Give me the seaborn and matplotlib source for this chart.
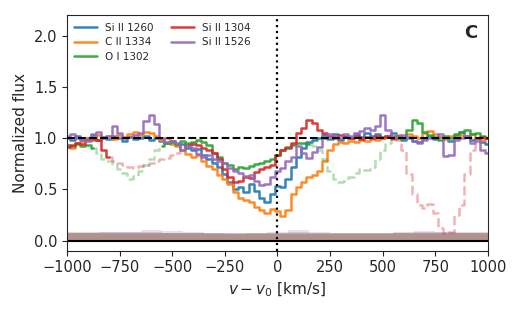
import numpy as np
import pandas as pd
import matplotlib
matplotlib.use("Agg")
import matplotlib.pyplot as plt
import seaborn as sns

sns.set_style("ticks", {"axes.edgecolor": "0.15", "xtick.color": "0.15", "ytick.color": "0.15"})
plt.rcParams['font.family'] = ['DejaVu Sans']

# velocity grid (bin centres, km/s)
v = np.arange(-1000, 1001, 25)

si1260 = [1.00, 0.98, 1.02, 0.99, 1.00, 1.03, 0.98, 1.01, 0.99, 1.02, 1.00, 0.97, 1.01, 0.99, 1.00, 1.02, 0.98,
          1.00, 0.97, 0.95, 0.97, 0.93, 0.94, 0.90, 0.88, 0.89, 0.84, 0.80, 0.76, 0.72, 0.65, 0.57, 0.50, 0.52,
          0.47, 0.55, 0.48, 0.42, 0.38, 0.45, 0.53, 0.52, 0.60, 0.72, 0.82, 0.90, 0.96, 0.98, 1.00, 1.03, 0.99,
          1.04, 0.98, 1.02, 1.00, 1.04, 1.01, 1.05, 1.02, 1.04, 1.00, 1.02, 1.05, 1.00, 0.98, 1.01, 0.97, 0.96,
          1.00, 1.02, 0.99, 1.01, 1.00, 0.97, 1.03, 1.06, 1.02, 0.98, 1.00, 0.96, 0.94]

cii1334 = [0.92, 0.90, 0.95, 0.97, 1.00, 0.98, 1.03, 1.00, 1.02, 0.99, 1.03, 1.01, 1.04, 1.06, 1.03, 1.06, 1.05,
           1.02, 0.98, 1.00, 0.94, 0.92, 0.88, 0.85, 0.82, 0.84, 0.78, 0.73, 0.70, 0.64, 0.60, 0.55, 0.47, 0.42,
           0.40, 0.38, 0.33, 0.30, 0.27, 0.31, 0.29, 0.24, 0.30, 0.45, 0.52, 0.57, 0.62, 0.64, 0.68, 0.78, 0.88,
           0.94, 0.96, 0.95, 0.97, 0.96, 0.98, 0.97, 0.99, 0.98, 1.00, 1.02, 0.99, 1.03, 1.01, 1.04, 1.02, 1.00,
           1.05, 1.07, 1.04, 1.01, 0.99, 1.02, 1.00, 1.03, 1.01, 1.04, 1.00, 0.98, 1.00]

oi1302 = [0.93, 0.92, 0.94, 0.92, 0.93, 0.90, 0.86, 0.80, 0.78, 0.74, 0.70, 0.66, 0.60, 0.63, 0.68, 0.74, 0.80,
          0.88, 0.92, 0.95, 0.96, 0.94, 0.97, 0.95, 0.96, 0.98, 0.96, 0.93, 0.86, 0.82, 0.76, 0.74, 0.70, 0.72,
          0.71, 0.73, 0.75, 0.76, 0.78, 0.80, 0.84, 0.88, 0.91, 0.93, 0.95, 0.95, 0.94, 0.92, 0.88, 0.80, 0.68,
          0.60, 0.57, 0.58, 0.62, 0.66, 0.70, 0.69, 0.72, 0.80, 0.88, 0.95, 1.00, 1.02, 1.00, 1.08, 1.18, 1.15,
          1.06, 1.03, 1.00, 0.98, 1.02, 1.00, 1.04, 1.06, 1.08, 1.04, 1.05, 1.02, 1.00]

si1304 = [0.91, 0.93, 0.95, 0.94, 0.98, 0.99, 0.98, 0.88, 0.82, 0.78, 0.76, 0.74, 0.72, 0.71, 0.73, 0.74, 0.76,
          0.78, 0.80, 0.81, 0.84, 0.86, 0.89, 0.93, 0.94, 0.93, 0.90, 0.88, 0.86, 0.80, 0.70, 0.62, 0.57, 0.58,
          0.62, 0.61, 0.67, 0.70, 0.72, 0.74, 0.84, 0.88, 0.90, 0.95, 1.05, 1.10, 1.18, 1.15, 1.08, 1.05, 1.02,
          1.00, 1.03, 1.01, 1.00, 1.02, 0.99, 1.01, 1.00, 1.02, 1.01, 1.02, 1.00, 0.98, 0.88, 0.65, 0.45, 0.35,
          0.32, 0.36, 0.27, 0.12, 0.07, 0.08, 0.25, 0.35, 0.65, 0.88, 1.00, 1.01, 1.00]

si1526 = [1.02, 1.04, 1.00, 0.98, 0.97, 1.04, 1.06, 1.00, 1.02, 1.12, 1.05, 1.00, 1.01, 1.03, 1.05, 1.17, 1.23,
          1.14, 1.00, 0.96, 0.97, 0.95, 0.88, 0.92, 0.90, 0.85, 0.82, 0.84, 0.80, 0.78, 0.76, 0.71, 0.68, 0.66,
          0.63, 0.64, 0.58, 0.54, 0.55, 0.62, 0.68, 0.71, 0.78, 0.82, 0.92, 0.86, 0.81, 0.87, 0.91, 1.00, 1.04,
          1.02, 1.00, 1.04, 1.02, 1.05, 1.07, 1.10, 1.08, 1.12, 1.23, 1.08, 1.02, 1.00, 1.03, 1.00, 0.97, 0.95,
          0.98, 1.00, 1.01, 1.04, 0.83, 0.84, 0.98, 1.00, 1.02, 0.95, 0.97, 0.88, 0.86]

# blended (contaminated) velocity ranges drawn dashed
blend_oi = [(-875, -550), (150, 550)]
blend_si1304 = [(-800, -425), (550, 950)]

# flux uncertainty, coarse grid
v_err = np.arange(-1000, 1001, 100)
err_si1260 = [0.07, 0.07, 0.07, 0.07, 0.07, 0.07, 0.07, 0.07, 0.06, 0.06, 0.06, 0.06, 0.06, 0.06, 0.06, 0.06, 0.07, 0.07, 0.07, 0.07, 0.07]
err_cii = [0.06, 0.06, 0.06, 0.06, 0.06, 0.06, 0.06, 0.06, 0.06, 0.06, 0.06, 0.06, 0.06, 0.06, 0.06, 0.06, 0.06, 0.06, 0.06, 0.06, 0.06]
err_oi = [0.07, 0.07, 0.07, 0.07, 0.07, 0.07, 0.07, 0.06, 0.06, 0.07, 0.07, 0.08, 0.07, 0.07, 0.07, 0.07, 0.07, 0.07, 0.07, 0.07, 0.07]
err_si1304 = [0.08, 0.08, 0.08, 0.08, 0.08, 0.07, 0.07, 0.07, 0.07, 0.07, 0.07, 0.07, 0.07, 0.07, 0.07, 0.07, 0.08, 0.08, 0.08, 0.08, 0.08]
err_si1526 = [0.07, 0.07, 0.08, 0.08, 0.10, 0.09, 0.08, 0.07, 0.07, 0.07, 0.08, 0.10, 0.08, 0.07, 0.07, 0.07, 0.07, 0.09, 0.08, 0.07, 0.07]

names = ["Si II 1260", "C II 1334", "O I 1302", "Si II 1304", "Si II 1526"]
fluxes = [si1260, cii1334, oi1302, si1304, si1526]
errs = [err_si1260, err_cii, err_oi, err_si1304, err_si1526]
blends = [[], [], blend_oi, blend_si1304, []]
colors = sns.color_palette("tab10", 5)


def runs(mask):
    # contiguous index runs where mask is True
    out = []
    i = 0
    while i < len(mask):
        if mask[i]:
            j = i
            while j + 1 < len(mask) and mask[j + 1]:
                j += 1
            out.append((i, j))
            i = j + 1
        else:
            i += 1
    return out


fig, ax = plt.subplots(figsize=(5.23, 3.15), dpi=100)
fig.subplots_adjust(left=0.128, right=0.933, top=0.951, bottom=0.204)

for name, f, e, bl, c in zip(names, fluxes, errs, blends, colors):
    f = np.array(f)
    ax.fill_between(v_err, 0, e, step='mid', color=c, alpha=0.22, lw=0)
    dashed = np.zeros(len(v), bool)
    for lo, hi in bl:
        dashed |= (v >= lo) & (v <= hi)
    solid = ~dashed
    labelled = False
    for i, j in runs(solid):
        i0, j0 = max(i - 1, 0), min(j + 1, len(v) - 1)
        seg = pd.DataFrame({'v': v[i0:j0 + 1], 'flux': f[i0:j0 + 1]})
        sns.lineplot(data=seg, x='v', y='flux', ax=ax, color=c, lw=1.8, alpha=0.9, drawstyle='steps-mid',
                     label=None if labelled else name, estimator=None, sort=False)
        labelled = True
    for i, j in runs(dashed):
        seg = pd.DataFrame({'v': v[i:j + 1], 'flux': f[i:j + 1]})
        sns.lineplot(data=seg, x='v', y='flux', ax=ax, color=c, lw=1.8, alpha=0.35, ls='--',
                     drawstyle='steps-mid', estimator=None, sort=False)

ax.axhline(1, color='black', ls='--', lw=1.5, zorder=5)
ax.axhline(0, color='black', lw=1.5)
ax.axvline(0, color='black', ls=':', lw=1.6)

ax.set_xlim(-1000, 1000)
ax.set_ylim(-0.1, 2.2)
ax.set_xticks(np.arange(-1000, 1001, 250))
ax.set_yticks([0, 0.5, 1.0, 1.5, 2.0])
ax.tick_params(labelsize=10.5)
ax.set_xlabel(r'$v - v_0$ [km/s]', fontsize=11)
ax.set_ylabel('Normalized flux', fontsize=11)
ax.text(0.975, 0.962, 'C', transform=ax.transAxes, ha='right', va='top', fontsize=13, fontweight='bold')
ax.legend(loc='upper left', ncol=2, frameon=False, fontsize=7.5, handlelength=2.2,
          columnspacing=1.6, borderaxespad=0.3, labelspacing=0.45)

fig.savefig('out.png', dpi=100)
